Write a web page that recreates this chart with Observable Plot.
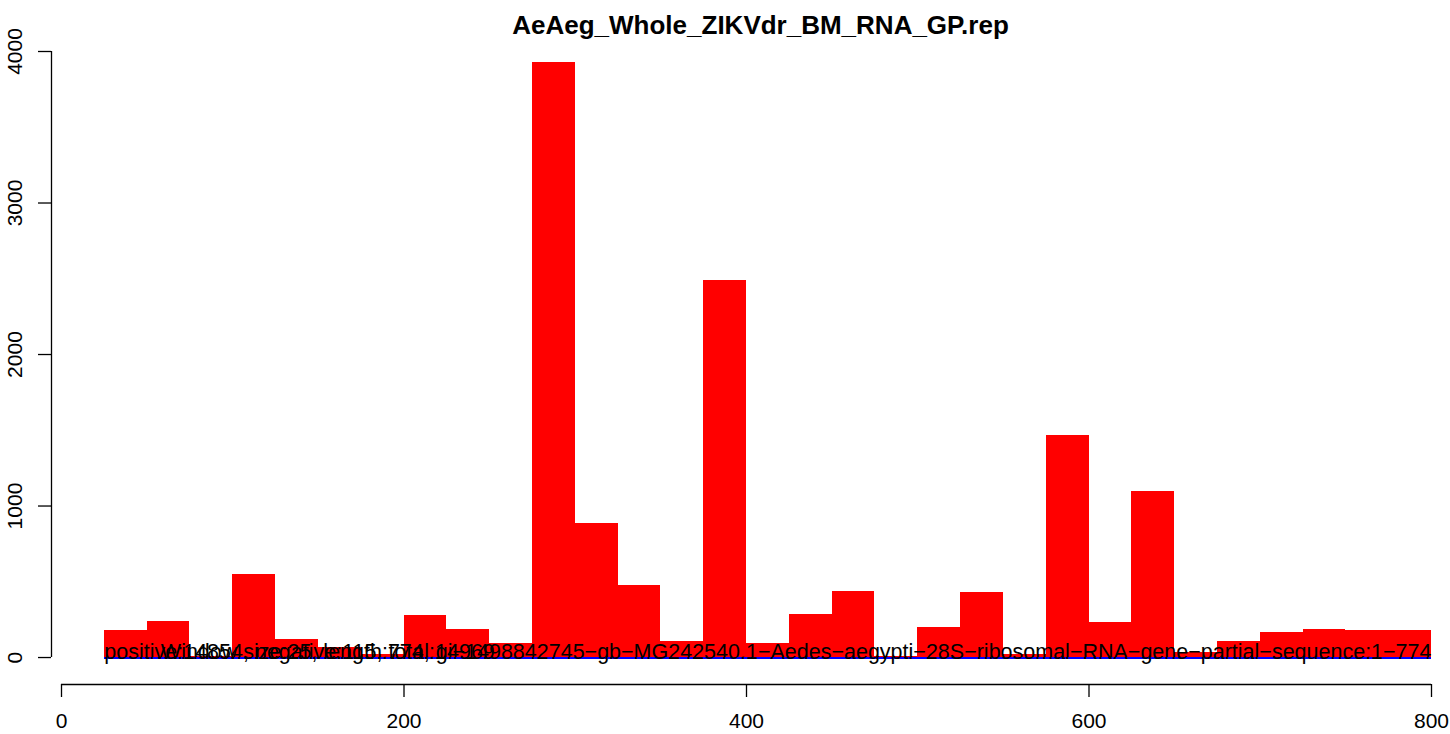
<!DOCTYPE html>
<html>
<head>
<meta charset="utf-8">
<script src="https://cdn.jsdelivr.net/npm/d3@7"></script>
<script src="https://cdn.jsdelivr.net/npm/@observablehq/plot@0.6"></script>
<style>
  html, body { margin: 0; padding: 0; background: #ffffff; }
  #chart { width: 1450px; height: 734px; }
</style>
</head>
<body>
<div id="chart"></div>
<script>
// ---- data ----
const titleText = "AeAeg_Whole_ZIKVdr_BM_RNA_GP.rep";
const windowSize = 25;
const windowStarts = [25, 50, 75, 100, 125, 150, 175, 200, 225, 250, 275, 300, 325, 350, 375, 400,
                      425, 450, 475, 500, 525, 550, 575, 600, 625, 650, 675, 700, 725, 750, 775];
const positiveValues = [178, 238, 8, 548, 119, 64, 18, 277, 185, 94, 3927, 884, 475, 108, 2488, 94,
                        286, 436, 10, 200, 429, 20, 1465, 233, 1096, 35, 108, 167, 185, 178, 178];
const negativeValues = [-10, -10, -10, -10, -10, -10, -10, -10, -10, -10, -10, -10, -10, -10, -10, -10,
                        -10, -10, -10, -10, -10, -10, -10, -10, -10, -10, -10, -10, -10, -10, -10];
const countsLabel = "positive:14854, negative:115, total:14969";
const infoLabel = "Window size:25, length:774, gi−1498842745−gb−MG242540.1−Aedes−aegypti−28S−ribosomal−RNA−gene−partial−sequence:1−774";
const xTicks = [0, 200, 400, 600, 800];
const yTicks = [0, 1000, 2000, 3000, 4000];
const xDomain = [-5.84, 800];
const yDomain = [-178, 4000];

// ---- tables ----
const posBars = windowStarts.map((s, i) => ({x1: s, x2: s + windowSize, y: positiveValues[i]}));
const negBars = windowStarts.map((s, i) => ({x1: s, x2: s + windowSize, y: negativeValues[i]}));
const firstStart = windowStarts[0];
const lastEnd = windowStarts[windowStarts.length - 1] + windowSize;

const font = "'Liberation Sans', Arial, Helvetica, sans-serif";
const fmt = d3.format("d");

const chart = Plot.plot({
  width: 1450,
  height: 734,
  marginLeft: 51,
  marginRight: 19,
  marginTop: 51,
  marginBottom: 50,
  style: {fontFamily: font, background: "#ffffff", color: "#000000", overflow: "visible"},
  x: {domain: xDomain, label: null},
  y: {domain: yDomain, label: null},
  marks: [
    Plot.rectY(posBars, {x1: "x1", x2: "x2", y1: 0, y2: "y", fill: "#ff0000", shapeRendering: "crispEdges"}),
    Plot.rectY(negBars, {x1: "x1", x2: "x2", y1: 0, y2: "y", fill: "#0000ff", shapeRendering: "crispEdges"}),
    Plot.text([countsLabel], {x: firstStart, y: 0, text: d => d, textAnchor: "start", lineAnchor: "bottom", dy: 1, fontSize: 21.5, fill: "#000000"}),
    Plot.text([infoLabel], {x: lastEnd, y: 0, text: d => d, textAnchor: "end", lineAnchor: "bottom", dy: 1, fontSize: 21.5, fill: "#000000"}),
    // axes
    Plot.ruleX([xDomain[0]], {y1: yTicks[0], y2: yTicks[yTicks.length - 1], stroke: "#000000", strokeWidth: 1.3}),
    Plot.ruleY([yDomain[0]], {x1: xTicks[0], x2: xTicks[xTicks.length - 1], stroke: "#000000", strokeWidth: 1.3}),
    Plot.axisX(xTicks, {anchor: "bottom", tickSize: 13, tickPadding: 16, fontSize: 21, tickFormat: fmt, strokeWidth: 1.3, stroke: "#000000", fill: "#000000"}),
    Plot.axisY(yTicks, {anchor: "left", tickSize: 13, tickPadding: 17, tickRotate: -90, fontSize: 21, tickFormat: fmt, strokeWidth: 1.3, stroke: "#000000", fill: "#000000"}),
    Plot.text([titleText], {frameAnchor: "top", dx: 19, dy: -36, lineAnchor: "top", text: d => d, fontSize: 26, fontWeight: "bold", fill: "#000000"})
  ]
});
document.getElementById("chart").appendChild(chart);
</script>
</body>
</html>
